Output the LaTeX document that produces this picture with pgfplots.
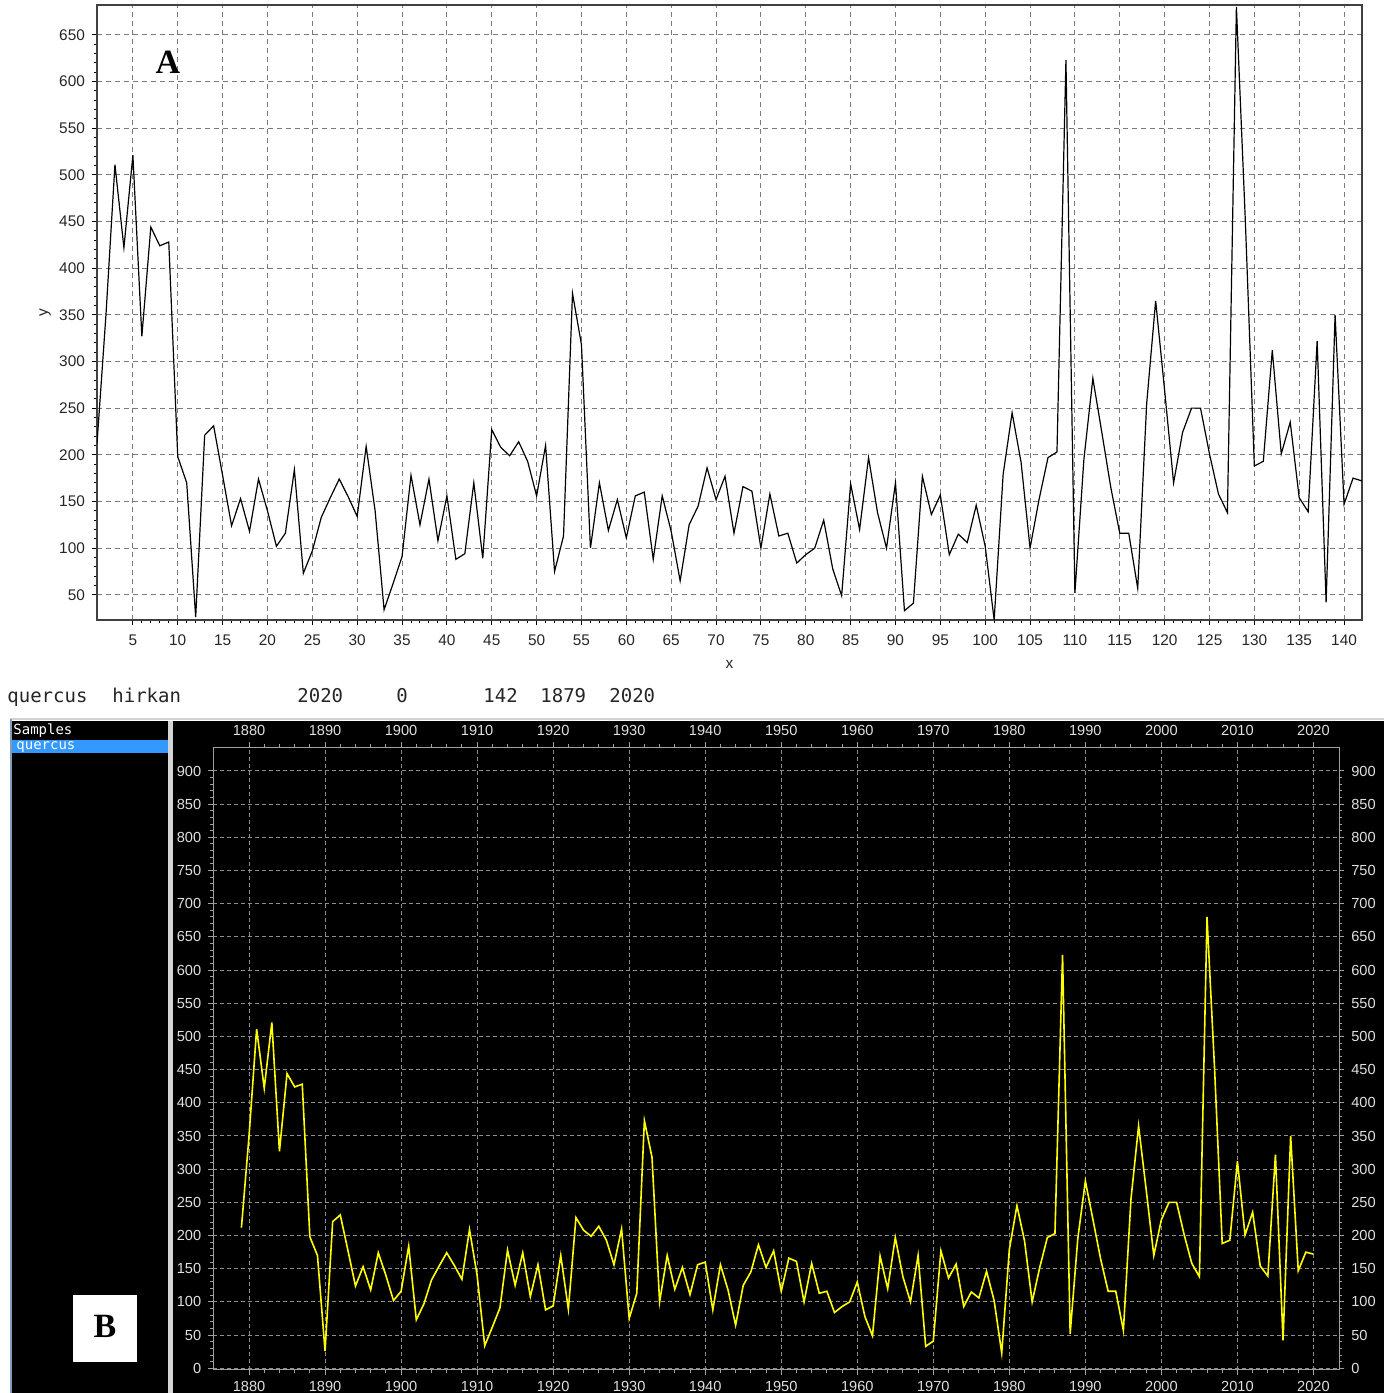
\documentclass[border=0pt]{standalone}
\usepackage{pgfplots}
\pgfplotsset{compat=1.18}
\usepackage{pgfplotstable}
\usepackage{fontspec}
\setmainfont{Liberation Sans}
\newfontfamily\monofont{DejaVu Sans Mono}
\newfontfamily\seriffont{Liberation Serif}
\definecolor{gridA}{HTML}{7A7A7A}
\definecolor{gridB}{HTML}{8C8C8C}
\definecolor{axisB}{HTML}{A0A0A0}
\definecolor{labB}{HTML}{E0E0E0}
\definecolor{selblue}{HTML}{3399FF}
\definecolor{sepgray}{HTML}{D4D4D4}
\definecolor{edgeblue}{HTML}{7F9DB9}
\definecolor{ylw}{HTML}{FFFF00}

\pgfplotstableread{
idx val
1 212
2 350
3 511
4 422
5 521
6 327
7 444
8 424
9 428
10 198
11 170
12 26
13 221
14 231
15 178
16 124
17 153
18 118
19 174
20 140
21 102
22 116
23 184
24 73
25 97
26 133
27 154
28 174
29 155
30 134
31 209
32 140
33 34
34 62
35 91
36 178
37 125
38 174
39 108
40 156
41 88
42 94
43 170
44 89
45 227
46 208
47 199
48 214
49 193
50 156
51 210
52 75
53 113
54 373
55 318
56 100
57 170
58 119
59 152
60 111
61 156
62 160
63 88
64 156
65 118
66 65
67 125
68 145
69 186
70 152
71 177
72 116
73 166
74 161
75 100
76 158
77 113
78 116
79 84
80 93
81 100
82 130
83 78
84 49
85 169
86 120
87 197
88 138
89 100
90 170
91 33
92 41
93 177
94 136
95 157
96 93
97 115
98 106
99 146
100 102
101 23
102 179
103 245
104 192
105 100
106 152
107 197
108 203
109 623
110 52
111 195
112 282
113 224
114 165
115 116
116 116
117 57
118 255
119 365
120 269
121 170
122 224
123 250
124 250
125 201
126 158
127 138
128 680
129 450
130 188
131 193
132 312
133 201
134 235
135 154
136 139
137 322
138 42
139 350
140 147
141 175
142 172
}\datatable

\begin{document}
\begin{tikzpicture}
\path[use as bounding box] (0,0) rectangle (692pt,696.5pt);
\fill[white] (0,0) rectangle (692pt,696.5pt);
% panel B frame
\fill[black] (5pt,0) rectangle (692pt,336pt);
\draw[line width=1pt, color=sepgray] (5pt,337pt) -- (692pt,337pt);
\draw[line width=1pt, color=edgeblue] (5.5pt,0) -- (5.5pt,337pt);
\fill[sepgray] (84pt,0) rectangle (86.5pt,336pt);
\fill[selblue] (6pt,320pt) rectangle (84pt,326.5pt);
\node[anchor=base west, inner sep=0, text=white, font=\monofont\fontsize{7}{8}\selectfont] at (6.5pt,329pt) {Samples};
\node[anchor=base west, inner sep=0, text=white, font=\monofont\fontsize{7}{8}\selectfont] at (8pt,321.5pt) {quercus};
\fill[white] (36.5pt,15.5pt) rectangle (68.5pt,49pt);
\node[font=\seriffont\bfseries\fontsize{17}{17}\selectfont, inner sep=0] at (52.5pt,33.5pt) {B};

% info row
\begin{scope}[every node/.style={anchor=base west, inner sep=0, font=\monofont\fontsize{9.5}{11}\selectfont, text=black!85}]
\node at (3.5pt,345pt) {quercus};
\node at (56pt,345pt) {hirkan};
\node at (148.5pt,345pt) {2020};
\node at (198pt,345pt) {0};
\node at (241.5pt,345pt) {142};
\node at (270pt,345pt) {1879};
\node at (304.5pt,345pt) {2020};
\end{scope}

% Panel A
\begin{axis}[
  at={(48.5pt,386.5pt)}, anchor=south west, scale only axis,
  width=632.5pt, height=307.5pt,
  xmin=1, xmax=142, ymin=23, ymax=682,
  xtick={5,10,...,140}, ytick={50,100,...,650},
  minor x tick num=4, minor y tick num=4,
  tick align=outside, tick pos=left,
  major tick length=2.5pt, minor tick length=1.5pt,
  grid=major,
  major grid style={gridA, line width=0.5pt, dash pattern=on 2.5pt off 2pt},
  axis line style={black!75, line width=0.8pt},
  every tick/.style={black, line width=0.5pt},
  tick label style={font=\fontsize{7.7}{8}\selectfont, text=black!85},
  /pgf/number format/assume math mode=true,
  xticklabel style={yshift=-1.5pt},
  xlabel={x}, ylabel={y},
  xlabel style={at={(axis description cs:0.5,-0.073)}, anchor=center, font=\fontsize{7.7}{8}\selectfont, text=black!85},
  ylabel style={at={(axis description cs:-0.041,0.5)}, anchor=center, font=\fontsize{7.7}{8}\selectfont, text=black!85},
  clip=true,
]
\addplot[black, line width=0.6pt, mark=none] table[x=idx, y=val] {\datatable};
\end{axis}
\node[font=\seriffont\bfseries\fontsize{17}{17}\selectfont, inner sep=0] at (84pt,665.5pt) {A};

% Panel B (bottom/left)
\begin{axis}[
  at={(106.65pt,11.7pt)}, anchor=south west, scale only axis,
  width=563pt, height=311.15pt,
  xmin=1875.3, xmax=2023.4, ymin=-2, ymax=935.7,
  xtick={1880,1890,...,2020}, ytick={0,50,...,900},
  minor x tick num=4, minor y tick num=4,
  tick align=outside, tick pos=left,
  major tick length=2.5pt, minor tick length=1.5pt,
  grid=major,
  major grid style={gridB, line width=0.5pt, dash pattern=on 2pt off 1.5pt},
  axis line style={axisB, line width=0.6pt},
  every tick/.style={axisB, line width=0.5pt},
  tick label style={font=\fontsize{7.3}{8}\selectfont, text=labB},
  /pgf/number format/assume math mode=true,
  /pgf/number format/1000 sep={},
]
\addplot[ylw, line width=0.8pt, mark=none] table[x expr=\thisrow{idx}+1878, y=val] {\datatable};
\end{axis}
% Panel B (top/right)
\begin{axis}[
  at={(106.65pt,11.7pt)}, anchor=south west, scale only axis,
  width=563pt, height=311.15pt,
  xmin=1875.3, xmax=2023.4, ymin=-2, ymax=935.7,
  xtick={1880,1890,...,2020}, ytick={0,50,...,900},
  minor x tick num=4, minor y tick num=4,
  tick align=outside, tick pos=right, ticklabel pos=right,
  major tick length=2.5pt, minor tick length=1.5pt,
  axis line style={axisB, line width=0.6pt},
  every tick/.style={axisB, line width=0.5pt},
  tick label style={font=\fontsize{7.3}{8}\selectfont, text=labB},
  /pgf/number format/assume math mode=true,
  /pgf/number format/1000 sep={},
]
\addplot[draw=none, mark=none] coordinates {(1900,100)};
\end{axis}
\end{tikzpicture}
\end{document}
